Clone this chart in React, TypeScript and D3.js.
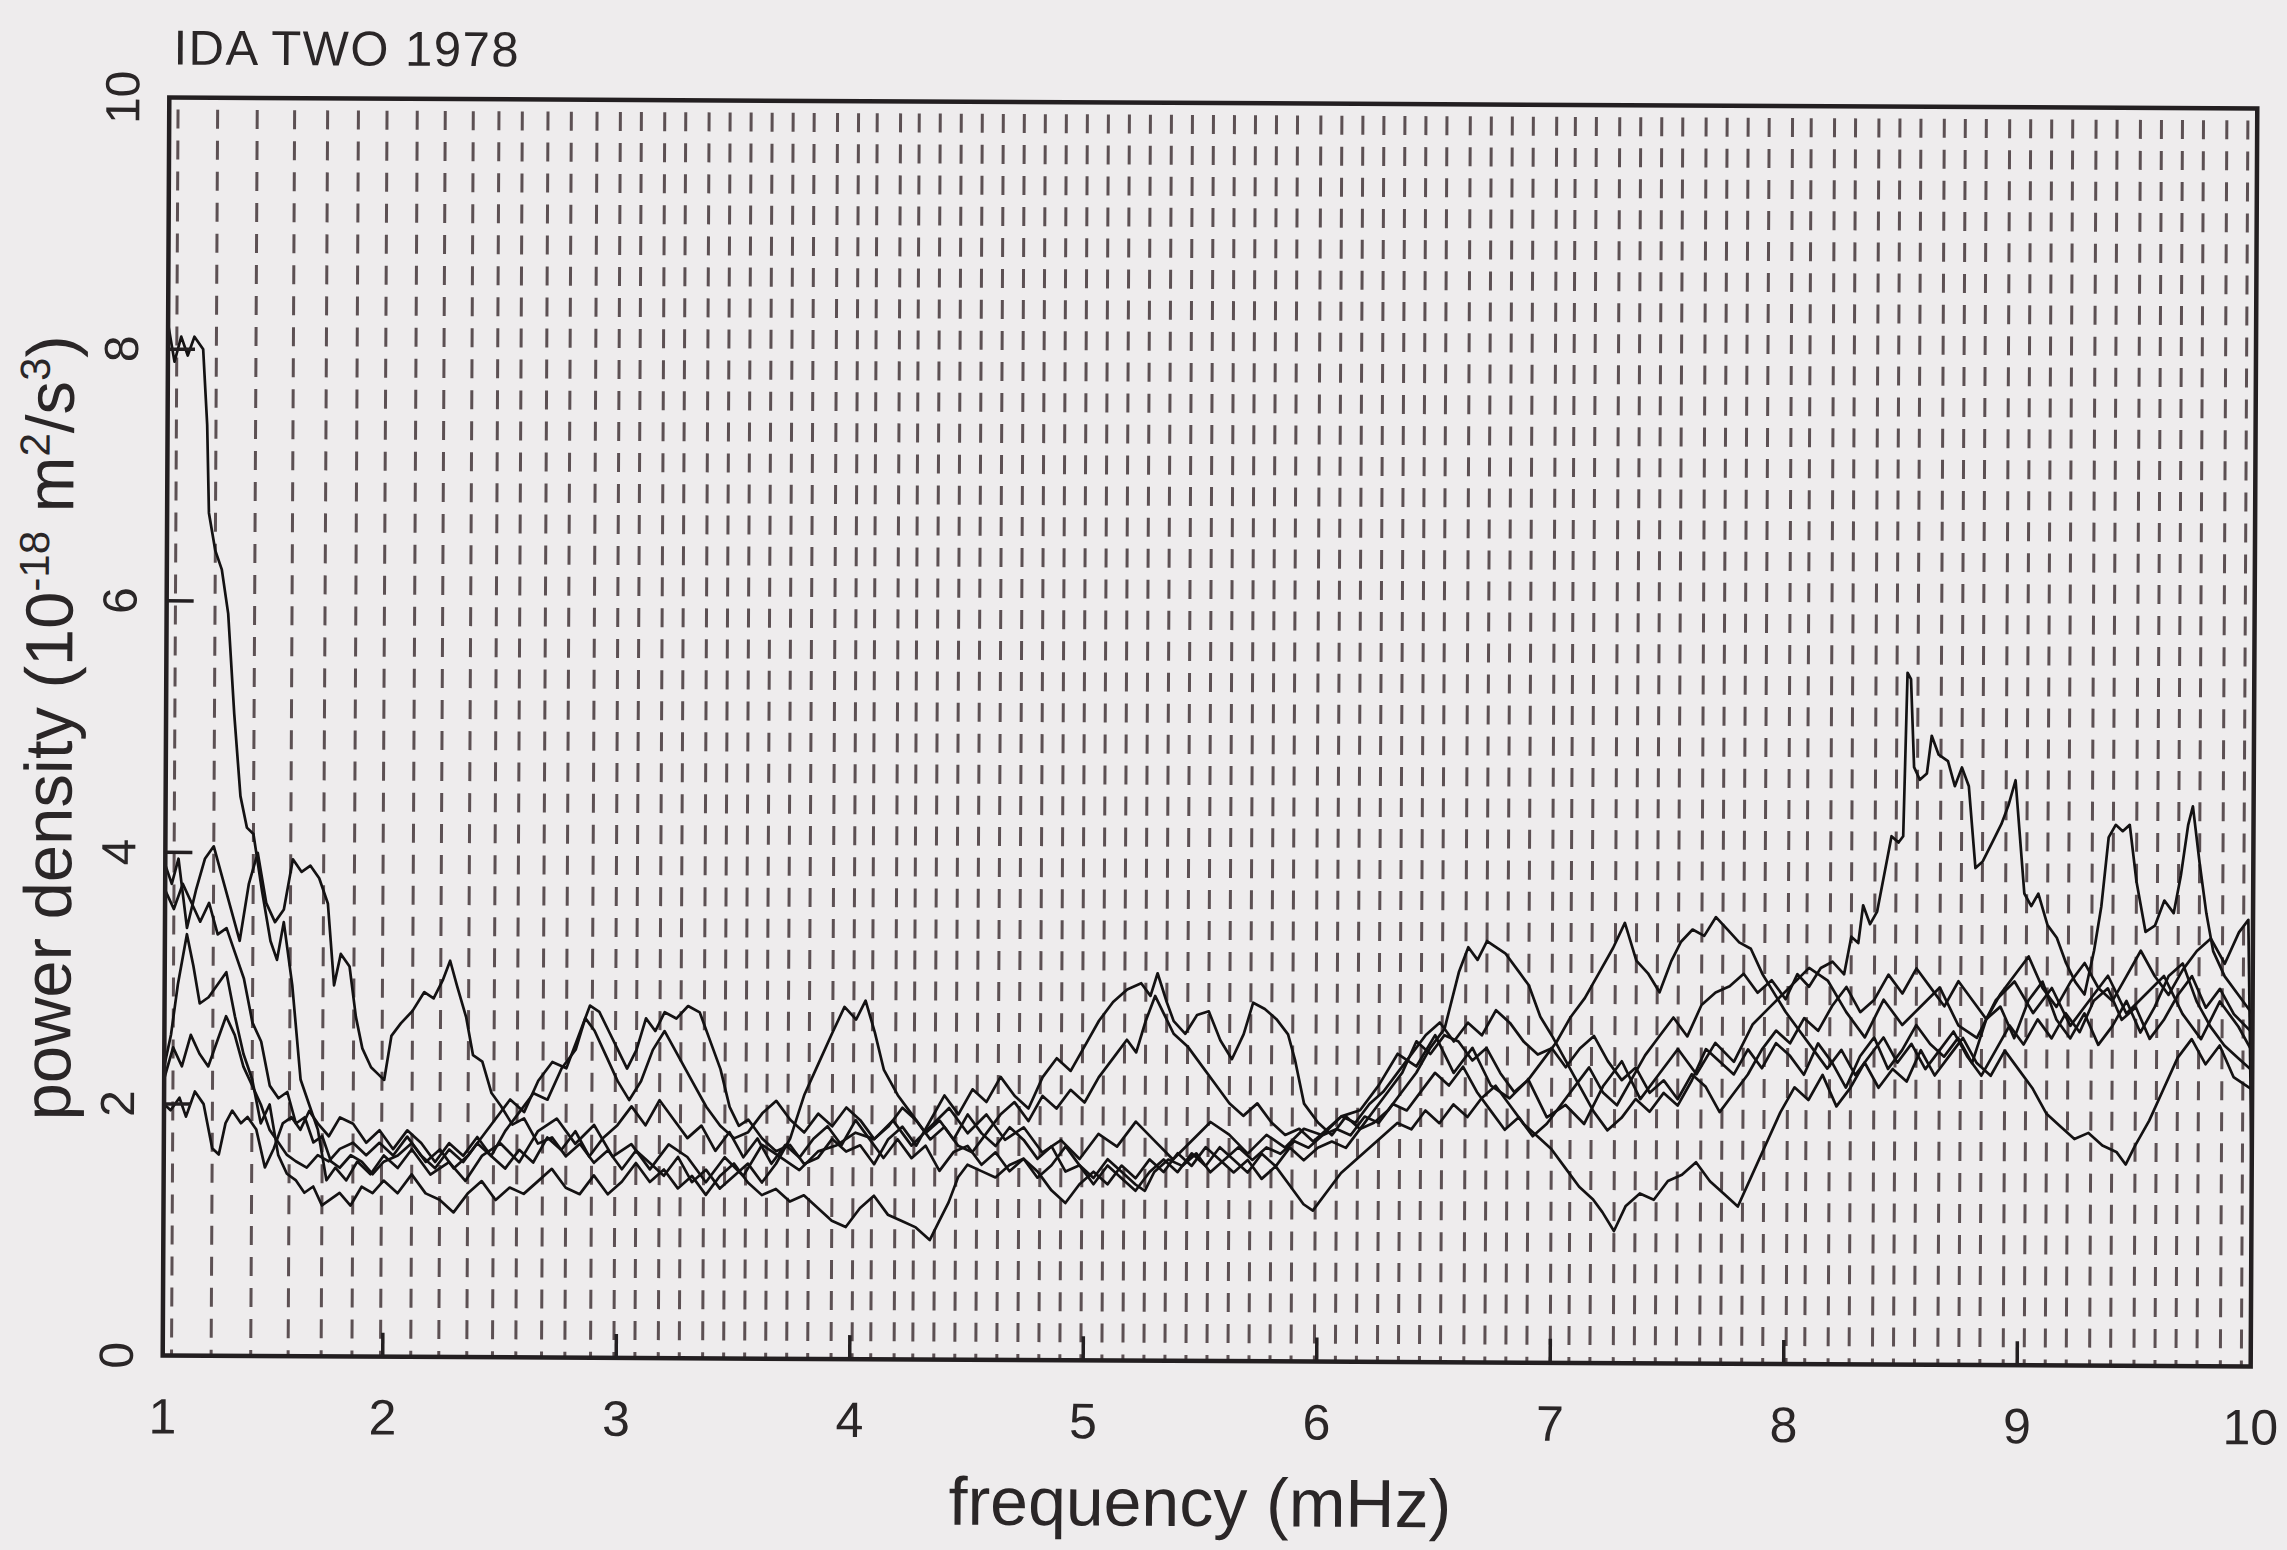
import React, { useEffect, useRef } from 'react';
import * as d3 from 'd3';

const W = 2287;
const H = 1550;

const xTicks = [1, 2, 3, 4, 5, 6, 7, 8, 9, 10];
const yTicks = [0, 2, 4, 6, 8, 10];
const titleText = 'IDA TWO 1978';
const xTitle = 'frequency (mHz)';

// mode frequencies marked by the dashed verticals (mHz)
const modeFreqs = [1.04, 1.22, 1.40, 1.57, 1.72, 1.86, 1.99, 2.12, 2.24, 2.36, 2.47, 2.57, 2.68, 2.78, 2.89, 2.99,
    3.08, 3.18, 3.27, 3.37, 3.46, 3.55, 3.64, 3.73, 3.82, 3.92, 4.01, 4.09, 4.19, 4.27, 4.36, 4.45, 4.54, 4.63,
    4.72, 4.81, 4.90, 4.99, 5.08, 5.17, 5.26, 5.35, 5.44, 5.53, 5.62, 5.71, 5.80, 5.89, 5.99, 6.08, 6.17, 6.26,
    6.35, 6.44, 6.53, 6.63, 6.72, 6.81, 6.90, 7.00, 7.08, 7.17, 7.27, 7.36, 7.45, 7.54, 7.64, 7.73, 7.82, 7.91,
    8.01, 8.09, 8.19, 8.28, 8.38, 8.47, 8.56, 8.66, 8.75, 8.84, 8.94, 9.03, 9.12, 9.21, 9.31, 9.40, 9.50, 9.59,
    9.68, 9.77, 9.87, 9.96];

// [frequency mHz, power density 1e-18 m^2/s^3]
const specA: [number, number][] = [[1.00,8.2],[1.03,7.9],[1.06,8.1],[1.09,7.95],[1.12,8.1],[1.16,8.0],[1.18,7.4],[1.19,6.7],
    [1.22,6.4],[1.25,6.25],[1.28,5.9],[1.31,5.1],[1.34,4.45],[1.37,4.2],[1.40,4.15],[1.44,3.7],[1.48,3.3],[1.51,3.15],
    [1.54,3.45],[1.58,2.95],[1.62,2.2],[1.66,2.0],[1.70,1.8],[1.74,1.4],[1.78,1.5],[1.83,1.4],[1.88,1.55],[1.94,1.45],
    [2.0,1.6],[2.06,1.5],[2.12,1.65],[2.2,1.45],[2.28,1.55],[2.35,1.4],[2.42,1.6],[2.5,1.7],[2.58,1.55],[2.66,1.8],
    [2.74,1.9],[2.82,1.7],[2.9,1.85],[2.98,1.6],[3.06,1.7],[3.14,1.5],[3.22,1.7],[3.3,1.6],[3.38,1.4],[3.46,1.6],
    [3.54,1.45],[3.62,1.7],[3.7,1.6],[3.78,1.5],[3.86,1.65],[3.94,1.7],[4.02,1.8],[4.1,1.75],[4.18,1.9],[4.26,1.7],
    [4.34,1.85],[4.42,2.0],[4.5,1.8],[4.58,1.95],[4.66,1.75],[4.74,1.85],[4.82,1.65],[4.9,1.75],[4.98,1.6],[5.06,1.8],
    [5.14,1.7],[5.22,1.9],[5.3,1.75],[5.38,1.6],[5.46,1.75],[5.54,1.9],[5.62,1.8],[5.7,1.65],[5.78,1.8],[5.86,1.7],
    [5.94,1.85],[6.02,1.8],[6.1,1.95],[6.18,2.0],[6.26,2.2],[6.34,2.45],[6.42,2.35],[6.5,2.6],[6.58,2.3],[6.66,2.5],
    [6.74,2.2],[6.82,2.1],[6.9,2.25],[6.98,1.95],[7.06,2.05],[7.14,1.9],[7.22,2.2],[7.3,2.4],[7.38,2.1],[7.46,2.3],
    [7.54,2.5],[7.62,2.3],[7.7,2.55],[7.78,2.4],[7.86,2.7],[7.94,2.85],[8.02,3.0],[8.1,3.15],[8.18,3.05],[8.26,2.8],
    [8.34,2.6],[8.42,2.9],[8.5,2.7],[8.58,2.85],[8.66,3.0],[8.74,2.7],[8.82,2.6],[8.9,2.9],[8.98,3.05],[9.06,2.8],
    [9.14,3.0],[9.22,2.7],[9.3,2.9],[9.38,3.1],[9.46,2.8],[9.54,2.95],[9.62,3.1],[9.7,2.8],[9.78,2.6],[9.86,2.9],
    [9.94,2.7],[10.0,2.5]];

const specB: [number, number][] = [[1.00,3.9],[1.03,3.75],[1.06,3.95],[1.1,3.4],[1.14,3.7],[1.18,3.95],[1.22,4.05],[1.26,3.8],
    [1.3,3.55],[1.34,3.3],[1.38,3.75],[1.42,4.0],[1.46,3.6],[1.5,3.45],[1.54,3.55],[1.58,3.95],[1.62,3.85],[1.66,3.9],
    [1.70,3.8],[1.74,3.6],[1.77,2.95],[1.80,3.2],[1.84,3.1],[1.87,2.7],[1.9,2.45],[1.94,2.3],[1.97,2.25],[2.0,2.2],
    [2.03,2.55],[2.07,2.65],[2.12,2.75],[2.17,2.9],[2.21,2.85],[2.25,3.0],[2.28,3.15],[2.31,2.95],[2.35,2.7],[2.38,2.4],
    [2.42,2.35],[2.46,2.1],[2.5,2.0],[2.55,1.85],[2.6,1.9],[2.66,1.7],[2.72,1.75],[2.78,1.6],[2.84,1.7],[2.9,1.55],
    [2.96,1.65],[3.02,1.5],[3.08,1.65],[3.14,1.55],[3.2,1.45],[3.26,1.6],[3.32,1.4],[3.38,1.5],[3.44,1.35],[3.5,1.45],
    [3.56,1.55],[3.62,1.4],[3.68,1.55],[3.74,1.75],[3.8,2.1],[3.86,2.35],[3.92,2.6],[3.97,2.8],[4.02,2.7],[4.06,2.85],
    [4.1,2.6],[4.14,2.3],[4.2,2.1],[4.26,1.95],[4.32,1.8],[4.38,1.9],[4.44,1.75],[4.5,1.95],[4.56,1.8],[4.62,1.7],
    [4.68,1.85],[4.74,1.75],[4.8,1.6],[4.86,1.7],[4.92,1.5],[4.98,1.55],[5.04,1.4],[5.1,1.55],[5.16,1.45],[5.22,1.35],
    [5.28,1.5],[5.34,1.6],[5.4,1.5],[5.46,1.65],[5.52,1.55],[5.58,1.7],[5.64,1.6],[5.7,1.5],[5.76,1.65],[5.82,1.55],
    [5.88,1.7],[5.94,1.6],[6.0,1.7],[6.06,1.75],[6.12,1.7],[6.18,1.85],[6.24,1.9],[6.3,2.0],[6.36,2.15],[6.42,2.3],
    [6.48,2.5],[6.54,2.65],[6.6,3.1],[6.64,3.3],[6.68,3.2],[6.72,3.35],[6.76,3.3],[6.8,3.25],[6.86,3.1],[6.9,3.0],
    [6.95,2.75],[7.0,2.6],[7.06,2.4],[7.12,2.2],[7.18,2.0],[7.24,1.85],[7.3,1.95],[7.36,2.1],[7.42,2.0],[7.48,2.15],
    [7.54,2.05],[7.6,2.25],[7.66,2.5],[7.72,2.4],[7.78,2.3],[7.84,2.5],[7.9,2.35],[7.96,2.55],[8.02,2.45],[8.08,2.3],
    [8.14,2.55],[8.2,2.4],[8.26,2.2],[8.32,2.45],[8.38,2.6],[8.44,2.35],[8.5,2.5],[8.56,2.7],[8.62,2.55],[8.68,2.45],
    [8.74,2.6],[8.8,2.4],[8.86,2.75],[8.92,2.85],[8.98,2.6],[9.04,2.9],[9.1,3.05],[9.16,2.75],[9.22,2.6],[9.28,2.8],
    [9.34,2.55],[9.4,2.7],[9.46,2.9],[9.52,2.65],[9.58,2.85],[9.64,3.1],[9.7,3.2],[9.76,2.9],[9.82,2.7],[9.88,2.55],
    [9.94,2.45],[10.0,2.35]];

const specC: [number, number][] = [[1.00,2.3],[1.03,2.55],[1.06,2.95],[1.1,3.35],[1.13,3.1],[1.16,2.8],[1.2,2.85],[1.24,2.95],
    [1.28,3.05],[1.32,2.7],[1.36,2.4],[1.4,2.2],[1.44,1.85],[1.48,2.0],[1.52,1.6],[1.56,1.45],[1.6,1.4],[1.64,1.3],
    [1.68,1.35],[1.72,1.2],[1.76,1.25],[1.8,1.3],[1.85,1.2],[1.9,1.35],[1.95,1.3],[2.0,1.4],[2.06,1.3],[2.12,1.45],
    [2.18,1.3],[2.24,1.25],[2.3,1.15],[2.36,1.3],[2.42,1.4],[2.48,1.25],[2.54,1.35],[2.6,1.3],[2.66,1.4],[2.72,1.5],
    [2.78,1.35],[2.84,1.3],[2.9,1.45],[2.96,1.3],[3.02,1.4],[3.08,1.55],[3.14,1.4],[3.2,1.5],[3.26,1.35],[3.32,1.45],
    [3.38,1.3],[3.44,1.45],[3.5,1.55],[3.56,1.4],[3.62,1.3],[3.68,1.35],[3.74,1.25],[3.8,1.3],[3.86,1.2],[3.92,1.1],
    [3.98,1.05],[4.04,1.2],[4.1,1.3],[4.16,1.15],[4.22,1.1],[4.28,1.05],[4.34,0.95],[4.38,1.1],[4.42,1.25],[4.46,1.45],
    [4.5,1.55],[4.56,1.5],[4.62,1.45],[4.68,1.55],[4.74,1.6],[4.8,1.5],[4.86,1.35],[4.92,1.25],[4.98,1.4],[5.04,1.5],
    [5.1,1.4],[5.16,1.55],[5.22,1.45],[5.28,1.6],[5.34,1.5],[5.4,1.65],[5.46,1.55],[5.52,1.7],[5.58,1.6],[5.64,1.5],
    [5.7,1.6],[5.76,1.45],[5.82,1.55],[5.88,1.4],[5.94,1.25],[5.98,1.2],[6.04,1.35],[6.1,1.5],[6.16,1.6],[6.22,1.7],
    [6.28,1.8],[6.34,1.9],[6.4,1.85],[6.46,2.0],[6.52,1.9],[6.58,2.05],[6.64,1.95],[6.7,2.1],[6.76,2.2],[6.82,2.05],
    [6.88,1.9],[6.94,1.8],[7.0,1.7],[7.06,1.55],[7.12,1.4],[7.18,1.3],[7.22,1.2],[7.27,1.05],[7.32,1.25],[7.38,1.35],
    [7.44,1.3],[7.5,1.45],[7.56,1.5],[7.62,1.6],[7.68,1.45],[7.74,1.35],[7.8,1.25],[7.86,1.5],[7.92,1.75],[7.98,2.0],
    [8.04,2.2],[8.1,2.1],[8.16,2.3],[8.22,2.05],[8.28,2.2],[8.34,2.4],[8.4,2.2],[8.46,2.35],[8.52,2.25],[8.58,2.5],
    [8.64,2.3],[8.7,2.45],[8.76,2.6],[8.82,2.4],[8.88,2.3],[8.94,2.5],[9.0,2.35],[9.06,2.2],[9.12,2.0],[9.18,1.9],
    [9.24,1.8],[9.3,1.85],[9.36,1.75],[9.42,1.7],[9.46,1.6],[9.5,1.75],[9.56,1.95],[9.62,2.2],[9.68,2.45],[9.74,2.6],
    [9.8,2.4],[9.86,2.55],[9.92,2.3],[10.0,2.2]];

const specD: [number, number][] = [[1.00,3.7],[1.04,3.55],[1.08,3.75],[1.12,3.6],[1.16,3.45],[1.2,3.6],[1.24,3.35],[1.28,3.4],
    [1.32,3.2],[1.36,3.0],[1.4,2.65],[1.44,2.5],[1.48,2.15],[1.52,2.05],[1.56,2.1],[1.6,1.85],[1.64,1.9],[1.68,1.7],
    [1.72,1.75],[1.76,1.55],[1.8,1.5],[1.85,1.6],[1.9,1.55],[1.95,1.45],[2.0,1.55],[2.06,1.6],[2.12,1.7],[2.18,1.55],
    [2.24,1.65],[2.3,1.5],[2.36,1.6],[2.42,1.75],[2.48,1.9],[2.54,2.05],[2.6,1.95],[2.66,2.2],[2.72,2.35],[2.78,2.3],
    [2.83,2.55],[2.88,2.8],[2.92,2.75],[2.96,2.6],[3.0,2.45],[3.04,2.3],[3.08,2.45],[3.12,2.7],[3.16,2.6],[3.2,2.75],
    [3.25,2.7],[3.3,2.8],[3.35,2.75],[3.4,2.5],[3.44,2.3],[3.48,2.0],[3.52,1.85],[3.56,1.9],[3.62,1.75],[3.68,1.65],
    [3.74,1.7],[3.8,1.55],[3.86,1.6],[3.92,1.75],[3.98,1.65],[4.04,1.7],[4.1,1.55],[4.16,1.75],[4.22,1.85],[4.28,1.7],
    [4.34,1.9],[4.4,2.1],[4.46,1.95],[4.52,2.15],[4.58,2.05],[4.64,2.25],[4.7,2.1],[4.76,2.0],[4.82,2.25],[4.88,2.4],
    [4.94,2.3],[5.0,2.5],[5.06,2.7],[5.12,2.85],[5.18,2.95],[5.24,3.0],[5.28,2.9],[5.31,3.08],[5.35,2.85],[5.38,2.7],
    [5.43,2.6],[5.48,2.75],[5.53,2.78],[5.58,2.55],[5.63,2.4],[5.68,2.6],[5.72,2.85],[5.77,2.8],[5.82,2.72],[5.87,2.6],
    [5.9,2.4],[5.94,2.05],[6.0,1.9],[6.06,1.8],[6.12,1.95],[6.18,1.85],[6.24,2.0],[6.3,2.15],[6.36,2.3],[6.42,2.55],
    [6.48,2.45],[6.54,2.6],[6.6,2.55],[6.66,2.4],[6.72,2.5],[6.78,2.3],[6.84,2.15],[6.9,2.25],[6.96,2.4],[7.02,2.55],
    [7.08,2.75],[7.14,2.9],[7.2,3.1],[7.26,3.3],[7.31,3.5],[7.36,3.2],[7.41,3.1],[7.46,2.95],[7.51,3.2],[7.55,3.35],
    [7.6,3.45],[7.65,3.4],[7.7,3.55],[7.75,3.45],[7.8,3.35],[7.85,3.3],[7.9,3.1],[7.95,2.95],[8.0,2.8],[8.06,2.65],
    [8.12,2.5],[8.18,2.35],[8.24,2.5],[8.3,2.3],[8.36,2.45],[8.42,2.6],[8.48,2.4],[8.54,2.55],[8.6,2.35],[8.66,2.5],
    [8.72,2.65],[8.78,2.45],[8.84,2.3],[8.9,2.5],[8.96,2.7],[9.02,2.55],[9.08,2.75],[9.14,2.6],[9.2,2.8],[9.26,2.65],
    [9.32,2.9],[9.38,3.0],[9.44,2.75],[9.5,2.85],[9.56,2.6],[9.62,2.75],[9.68,2.95],[9.74,3.1],[9.8,2.85],[9.86,3.0],
    [9.92,2.8],[10.0,2.65]];

const specE: [number, number][] = [[1.00,2.0],[1.03,1.95],[1.07,2.05],[1.1,1.9],[1.14,2.1],[1.18,2.0],[1.22,1.65],[1.25,1.6],
    [1.28,1.85],[1.31,1.95],[1.35,1.85],[1.38,1.9],[1.42,1.8],[1.46,1.5],[1.5,1.65],[1.54,1.85],[1.58,1.9],[1.62,1.8],
    [1.66,1.95],[1.7,1.85],[1.75,1.75],[1.8,1.9],[1.86,1.85],[1.92,1.7],[1.98,1.8],[2.04,1.65],[2.1,1.8],[2.16,1.7],
    [2.22,1.55],[2.28,1.7],[2.34,1.6],[2.4,1.75],[2.46,1.6],[2.52,1.5],[2.58,1.65],[2.64,1.55],[2.7,1.75],[2.76,1.65],
    [2.82,1.8],[2.88,1.6],[2.94,1.75],[3.0,1.85],[3.06,2.0],[3.12,1.85],[3.18,2.05],[3.24,1.9],[3.3,1.75],[3.36,1.85],
    [3.42,1.65],[3.48,1.8],[3.54,1.6],[3.6,1.75],[3.66,1.55],[3.72,1.7],[3.78,1.6],[3.84,1.75],[3.9,1.85],[3.96,1.7],
    [4.02,1.9],[4.08,1.75],[4.14,1.6],[4.2,1.75],[4.26,1.6],[4.32,1.7],[4.38,1.5],[4.44,1.65],[4.5,1.7],[4.56,1.55],
    [4.62,1.65],[4.68,1.5],[4.74,1.6],[4.8,1.45],[4.86,1.55],[4.92,1.7],[4.98,1.55],[5.04,1.45],[5.1,1.6],[5.16,1.5],
    [5.22,1.4],[5.26,1.35],[5.3,1.5],[5.36,1.6],[5.42,1.55],[5.48,1.65],[5.54,1.5],[5.6,1.6],[5.66,1.7],[5.72,1.6],
    [5.78,1.7],[5.84,1.65],[5.9,1.75],[5.96,1.7],[6.02,1.8],[6.08,1.85],[6.14,1.8],[6.2,1.95],[6.26,1.9],[6.32,2.05],
    [6.38,2.0],[6.44,2.15],[6.5,2.3],[6.56,2.2],[6.62,2.35],[6.68,2.15],[6.74,2.0],[6.8,1.85],[6.86,1.95],[6.92,1.8],
    [6.98,1.9],[7.04,2.05],[7.1,2.2],[7.16,2.35],[7.22,2.15],[7.28,2.05],[7.34,2.25],[7.4,2.45],[7.46,2.6],[7.52,2.75],
    [7.58,2.6],[7.64,2.85],[7.7,2.95],[7.76,3.0],[7.82,3.1],[7.88,2.95],[7.94,3.05],[8.0,2.9],[8.05,3.1],[8.1,3.0],
    [8.15,3.15],[8.2,3.2],[8.25,3.1],[8.28,3.4],[8.31,3.35],[8.33,3.65],[8.36,3.5],[8.39,3.6],[8.42,3.9],[8.45,4.2],
    [8.48,4.15],[8.5,4.2],[8.515,5.5],[8.53,5.45],[8.545,4.75],[8.57,4.65],[8.6,4.7],[8.62,5.0],[8.65,4.85],[8.69,4.8],
    [8.72,4.6],[8.75,4.75],[8.78,4.6],[8.81,3.95],[8.84,4.0],[8.88,4.15],[8.92,4.3],[8.95,4.45],[8.98,4.65],[9.0,4.2],
    [9.02,3.75],[9.05,3.65],[9.08,3.75],[9.12,3.5],[9.16,3.4],[9.2,3.2],[9.24,3.05],[9.28,2.95],[9.32,3.3],[9.35,3.65],
    [9.38,4.2],[9.41,4.3],[9.44,4.25],[9.47,4.3],[9.5,3.85],[9.54,3.45],[9.58,3.5],[9.62,3.7],[9.66,3.6],[9.69,3.9],
    [9.72,4.3],[9.74,4.45],[9.77,4.0],[9.8,3.6],[9.83,3.3],[9.88,3.1],[9.94,2.95],[10.0,2.8]];

const specF: [number, number][] = [[1.00,2.2],[1.04,2.45],[1.08,2.3],[1.12,2.55],[1.16,2.4],[1.2,2.3],[1.24,2.5],[1.28,2.7],
    [1.32,2.55],[1.36,2.3],[1.4,2.15],[1.44,2.0],[1.48,1.8],[1.52,1.7],[1.56,1.6],[1.6,1.55],[1.65,1.5],[1.7,1.6],
    [1.75,1.55],[1.8,1.65],[1.86,1.7],[1.92,1.6],[1.98,1.7],[2.04,1.6],[2.1,1.75],[2.16,1.6],[2.22,1.5],[2.28,1.65],
    [2.34,1.55],[2.4,1.7],[2.46,1.6],[2.52,1.8],[2.58,1.95],[2.64,2.1],[2.7,2.05],[2.76,2.3],[2.82,2.45],[2.86,2.7],
    [2.9,2.6],[2.95,2.4],[3.0,2.2],[3.05,2.05],[3.1,2.2],[3.15,2.45],[3.2,2.6],[3.26,2.4],[3.32,2.2],[3.38,2.0],
    [3.44,1.85],[3.5,1.75],[3.56,1.8],[3.62,1.95],[3.68,2.05],[3.74,1.9],[3.8,1.8],[3.86,1.95],[3.92,1.85],[3.98,2.0],
    [4.04,1.9],[4.1,1.75],[4.16,1.85],[4.22,2.0],[4.28,1.9],[4.34,1.75],[4.4,1.85],[4.46,1.7],[4.52,1.65],[4.58,1.8],
    [4.64,1.95],[4.7,2.05],[4.76,1.9],[4.82,2.1],[4.88,2.0],[4.94,2.15],[5.0,2.05],[5.06,2.25],[5.12,2.4],[5.18,2.55],
    [5.22,2.45],[5.26,2.7],[5.3,2.9],[5.34,2.75],[5.38,2.6],[5.44,2.5],[5.5,2.35],[5.56,2.2],[5.62,2.05],[5.68,1.95],
    [5.74,2.05],[5.8,1.9],[5.86,1.8],[5.92,1.85],[5.98,1.75],[6.04,1.85],[6.1,1.95],[6.16,1.9],[6.22,2.05],[6.28,2.15],
    [6.34,2.3],[6.4,2.45],[6.46,2.6],[6.52,2.7],[6.58,2.55],[6.64,2.7],[6.7,2.6],[6.76,2.8],[6.82,2.7],[6.88,2.55],
    [6.94,2.45],[7.0,2.5],[7.06,2.35],[7.12,2.5],[7.18,2.6],[7.24,2.4],[7.3,2.25],[7.36,2.35],[7.42,2.15],[7.48,2.25],
    [7.54,2.1],[7.6,2.3],[7.66,2.2],[7.72,2.0],[7.78,2.15],[7.84,2.3],[7.9,2.5],[7.96,2.65],[8.02,2.55],[8.08,2.75],
    [8.14,2.65],[8.2,2.85],[8.26,3.0],[8.32,2.8],[8.38,2.9],[8.44,3.1],[8.5,2.95],[8.56,3.15],[8.62,3.0],[8.68,2.85],
    [8.74,3.05],[8.8,2.9],[8.86,2.75],[8.92,2.95],[8.98,3.1],[9.04,3.25],[9.1,3.0],[9.16,2.85],[9.22,3.05],[9.28,3.2],
    [9.34,3.0],[9.4,2.9],[9.46,3.1],[9.52,3.3],[9.58,3.1],[9.64,2.95],[9.7,3.15],[9.76,3.3],[9.82,3.4],[9.88,3.2],
    [9.94,3.45],[9.98,3.55],[10.0,1.5]];

const spectra = [specA, specB, specC, specD, specE, specF];

const FONT = '"Liberation Sans", Arial, Helvetica, sans-serif';

function App() {
    const svgRef = useRef<SVGSVGElement>(null);

    useEffect(() => {
        const svg = d3.select(svgRef.current);
        svg.selectAll('*').remove();

        svg.append('rect')
            .attr('width', W)
            .attr('height', H)
            .attr('fill', '#eeeced');

        // the scanned figure sits slightly askew
        const g = svg.append('g').attr('transform', 'rotate(0.3, 1209, 731)');

        const xScale = d3.scaleLinear().domain([1, 2, 10]).range([166, 386, 2254]);
        const yScale = d3.scaleLinear().domain([0, 10]).range([1361, 103]);

        // mode markers
        g.append('g')
            .selectAll('line')
            .data(modeFreqs)
            .join('line')
            .attr('x1', d => xScale(d))
            .attr('x2', d => xScale(d))
            .attr('y1', yScale(10))
            .attr('y2', yScale(0))
            .attr('stroke', '#5c5053')
            .attr('stroke-width', 3)
            .attr('stroke-dasharray', '19 12')
            .attr('stroke-dashoffset', 19);

        const lineGenerator = d3.line<[number, number]>()
            .x(d => xScale(d[0]))
            .y(d => yScale(d[1]));

        g.append('g')
            .selectAll('path')
            .data(spectra)
            .join('path')
            .attr('d', d => lineGenerator(d))
            .attr('fill', 'none')
            .attr('stroke', '#141213')
            .attr('stroke-width', 2.7)
            .attr('stroke-linejoin', 'round');

        // frame
        g.append('rect')
            .attr('x', xScale(1))
            .attr('y', yScale(10))
            .attr('width', xScale(10) - xScale(1))
            .attr('height', yScale(0) - yScale(10))
            .attr('fill', 'none')
            .attr('stroke', '#231f21')
            .attr('stroke-width', 4.5);

        // inward ticks
        g.append('g')
            .selectAll('line')
            .data(xTicks.slice(1, -1))
            .join('line')
            .attr('x1', d => xScale(d))
            .attr('x2', d => xScale(d))
            .attr('y1', yScale(0))
            .attr('y2', yScale(0) - 24)
            .attr('stroke', '#231f21')
            .attr('stroke-width', 3.5);

        g.append('g')
            .selectAll('line')
            .data(yTicks.slice(1, -1))
            .join('line')
            .attr('x1', xScale(1))
            .attr('x2', xScale(1) + 27)
            .attr('y1', d => yScale(d))
            .attr('y2', d => yScale(d))
            .attr('stroke', '#231f21')
            .attr('stroke-width', 3.5);

        // tick labels
        g.append('g')
            .selectAll('text')
            .data(xTicks)
            .join('text')
            .attr('x', d => xScale(d))
            .attr('y', 1439)
            .attr('text-anchor', 'middle')
            .attr('font-family', FONT)
            .attr('font-size', 50)
            .attr('fill', '#2a2627')
            .text(d => d);

        g.append('g')
            .selectAll('text')
            .data(yTicks)
            .join('text')
            .attr('transform', d => `translate(136,${yScale(d)}) rotate(-90)`)
            .attr('text-anchor', 'middle')
            .attr('font-family', FONT)
            .attr('font-size', 48)
            .attr('fill', '#2a2627')
            .text(d => d);

        // titles
        g.append('text')
            .attr('x', 170)
            .attr('y', 70)
            .attr('font-family', FONT)
            .attr('font-size', 49)
            .attr('letter-spacing', 1.5)
            .attr('fill', '#2a2627')
            .text(titleText);

        g.append('text')
            .attr('x', 1204)
            .attr('y', 1526)
            .attr('text-anchor', 'middle')
            .attr('font-family', FONT)
            .attr('font-size', 68)
            .attr('fill', '#2a2627')
            .text(xTitle);

        const yTitle = g.append('text')
            .attr('transform', 'translate(72,734) rotate(-90)')
            .attr('text-anchor', 'middle')
            .attr('font-family', FONT)
            .attr('font-size', 67)
            .attr('fill', '#2a2627');
        yTitle.append('tspan').text('power density (10');
        yTitle.append('tspan').attr('dy', -24).attr('font-size', 42).text('-18');
        yTitle.append('tspan').attr('dy', 24).text(' m');
        yTitle.append('tspan').attr('dy', -24).attr('font-size', 42).text('2');
        yTitle.append('tspan').attr('dy', 24).text('/s');
        yTitle.append('tspan').attr('dy', -24).attr('font-size', 42).text('3');
        yTitle.append('tspan').attr('dy', 24).text(')');
    }, []);

    return (
        <svg
            ref={svgRef}
            width={W}
            height={H}
            style={{ position: 'absolute', left: 0, top: 0, display: 'block' }}
        />
    );
}

export default App;
